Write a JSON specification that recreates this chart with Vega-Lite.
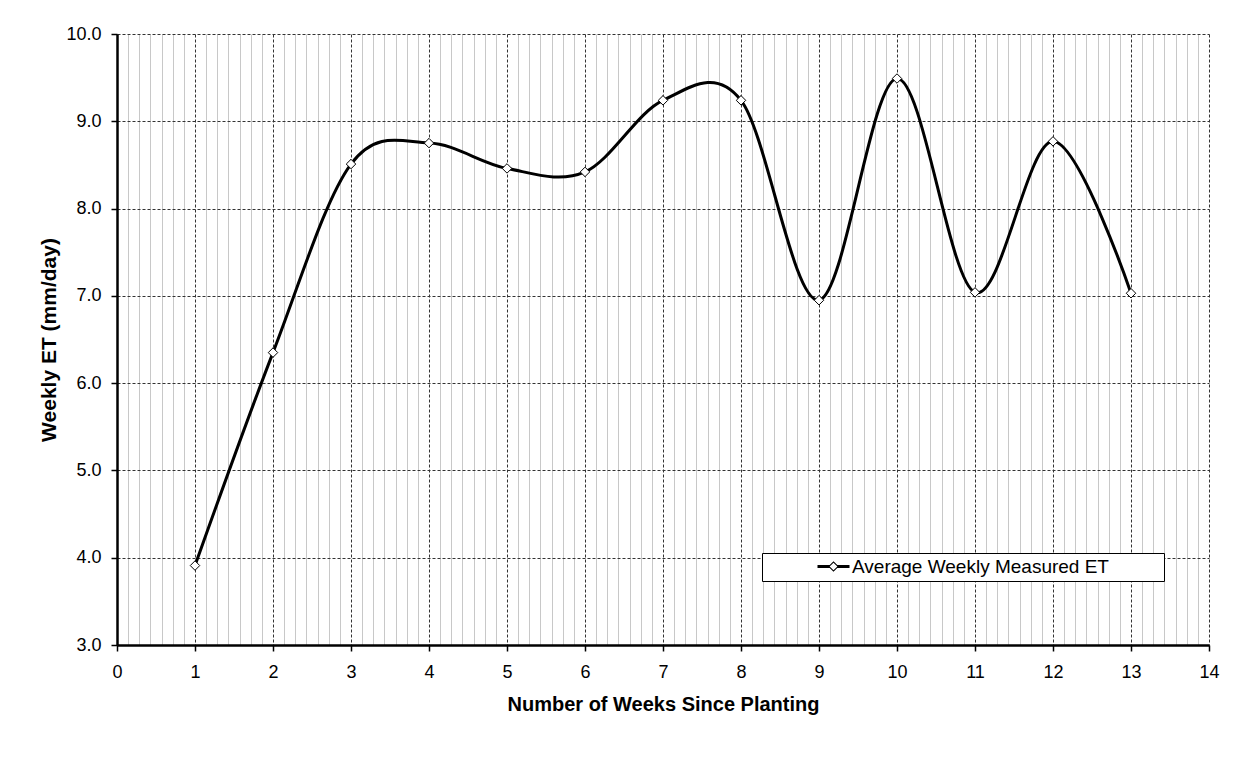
{
  "$schema": "https://vega.github.io/schema/vega-lite/v6.json",
  "width": 1092,
  "height": 611,
  "autosize": "none",
  "padding": {"left": 117, "top": 34, "right": 29, "bottom": 130},
  "background": "white",
  "config": {"view": {"stroke": null}, "font": "Liberation Sans"},
  "data": {
    "values": [
      {"week": 1, "et": 3.91, "series": "Average Weekly Measured ET"},
      {"week": 2, "et": 6.35, "series": "Average Weekly Measured ET"},
      {"week": 3, "et": 8.51, "series": "Average Weekly Measured ET"},
      {"week": 4, "et": 8.75, "series": "Average Weekly Measured ET"},
      {"week": 5, "et": 8.46, "series": "Average Weekly Measured ET"},
      {"week": 6, "et": 8.42, "series": "Average Weekly Measured ET"},
      {"week": 7, "et": 9.24, "series": "Average Weekly Measured ET"},
      {"week": 8, "et": 9.24, "series": "Average Weekly Measured ET"},
      {"week": 9, "et": 6.95, "series": "Average Weekly Measured ET"},
      {"week": 10, "et": 9.49, "series": "Average Weekly Measured ET"},
      {"week": 11, "et": 7.04, "series": "Average Weekly Measured ET"},
      {"week": 12, "et": 8.77, "series": "Average Weekly Measured ET"},
      {"week": 13, "et": 7.03, "series": "Average Weekly Measured ET"}
    ]
  },
  "encoding": {
    "y": {
      "field": "et",
      "type": "quantitative",
      "scale": {"domain": [3, 10], "nice": false, "zero": false},
      "axis": {
        "values": [3, 4, 5, 6, 7, 8, 9, 10],
        "format": ".1f",
        "labelFontSize": 18,
        "labelColor": "black",
        "labelPadding": 10,
        "tickSize": 6,
        "tickWidth": 1.5,
        "tickColor": "black",
        "domainColor": "black",
        "domainWidth": 2.5,
        "grid": true,
        "gridColor": "#333333",
        "gridDash": [3, 2],
        "gridWidth": 1,
        "title": "Weekly ET (mm/day)",
        "titleFontSize": 21,
        "titleFontWeight": "bold",
        "titleColor": "black",
        "titlePadding": 6
      }
    }
  },
  "resolve": {"axis": {"x": "independent"}},
  "layer": [
    {
      "mark": {"type": "line", "interpolate": "cardinal", "tension": 0, "strokeWidth": 3},
      "encoding": {
        "x": {
          "field": "week",
          "type": "quantitative",
          "scale": {"domain": [0, 14], "nice": false, "zero": false},
          "axis": {
            "orient": "top",
            "values": [0.1429,0.2857,0.4286,0.5714,0.7143,0.8571,1.1429,1.2857,1.4286,1.5714,1.7143,1.8571,2.1429,2.2857,2.4286,2.5714,2.7143,2.8571,3.1429,3.2857,3.4286,3.5714,3.7143,3.8571,4.1429,4.2857,4.4286,4.5714,4.7143,4.8571,5.1429,5.2857,5.4286,5.5714,5.7143,5.8571,6.1429,6.2857,6.4286,6.5714,6.7143,6.8571,7.1429,7.2857,7.4286,7.5714,7.7143,7.8571,8.1429,8.2857,8.4286,8.5714,8.7143,8.8571,9.1429,9.2857,9.4286,9.5714,9.7143,9.8571,10.1429,10.2857,10.4286,10.5714,10.7143,10.8571,11.1429,11.2857,11.4286,11.5714,11.7143,11.8571,12.1429,12.2857,12.4286,12.5714,12.7143,12.8571,13.1429,13.2857,13.4286,13.5714,13.7143,13.8571],
            "labels": false,
            "ticks": false,
            "domain": false,
            "title": null,
            "grid": true,
            "gridColor": "#c8c8c8",
            "gridWidth": 1
          }
        },
        "color": {
          "field": "series",
          "type": "nominal",
          "scale": {"range": ["black"]},
          "legend": {
            "orient": "none",
            "legendX": 645,
            "legendY": 519,
            "title": null,
            "padding": 4,
            "strokeColor": "black",
            "fillColor": "white",
            "cornerRadius": 0,
            "labelFontSize": 19,
            "labelColor": "black",
            "labelLimit": 600,
            "labelOffset": 9,
            "symbolOffset": 58,
            "symbolSize": 256,
            "symbolType": "M-2,-0.19L-0.38,-0.19L-0.57,0L-0.38,0.19L-2,0.19ZM2,0.19L0.38,0.19L0.57,0L0.38,-0.19L2,-0.19ZM0,-0.66L0.66,0L0,0.66L-0.66,0ZM0,-0.48L-0.48,0L0,0.48L0.48,0ZM40.75,0",
            "symbolFillColor": "black",
            "symbolStrokeColor": "black",
            "symbolStrokeWidth": 0
          }
        }
      }
    },
    {
      "mark": {"type": "point", "shape": "diamond", "size": 90, "filled": true, "fill": "white", "stroke": "black", "strokeWidth": 1, "opacity": 1},
      "encoding": {
        "x": {
          "field": "week",
          "type": "quantitative",
          "scale": {"domain": [0, 14], "nice": false, "zero": false},
          "axis": {
            "orient": "bottom",
            "values": [0, 1, 2, 3, 4, 5, 6, 7, 8, 9, 10, 11, 12, 13, 14],
            "format": "d",
            "labelOverlap": false,
            "labelFlush": false,
            "labelBound": false,
            "labelFontSize": 18,
            "labelColor": "black",
            "labelPadding": 12,
            "tickSize": 6,
            "tickWidth": 1.5,
            "tickColor": "black",
            "domainColor": "black",
            "domainWidth": 2.5,
            "grid": true,
            "gridColor": "#333333",
            "gridDash": [3, 2],
            "gridWidth": 1,
            "title": "Number of Weeks Since Planting",
            "titleFontSize": 20,
            "titleFontWeight": "bold",
            "titleColor": "black",
            "titlePadding": 13
          }
        }
      }
    }
  ]
}
